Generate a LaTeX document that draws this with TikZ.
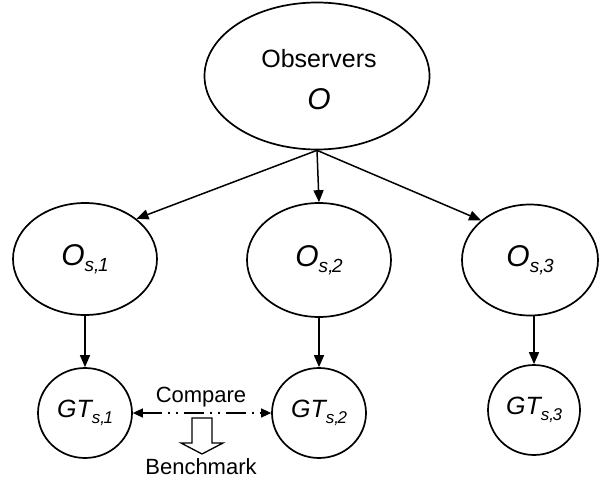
\documentclass[tikz,border=0pt]{standalone}
\usepackage{fontspec}
\setmainfont{Liberation Sans}
\usetikzlibrary{shapes.geometric,arrows.meta}

% italic symbol with a small italic subscript: #1 symbol, #2 subscript,
% #3 symbol size (pt), #4 subscript size (pt)
\newcommand{\symsub}[4]{{\fontsize{#3pt}{#3pt}\selectfont\itshape #1\raisebox{-6pt}{\fontsize{#4pt}{#4pt}\selectfont #2}}}

\tikzset{
  oval/.style={ellipse, draw, line width=1.7pt, inner sep=0pt},
  arr/.style={-{Triangle[length=12pt,width=10pt]}, line width=1.5pt},
  cmp/.style={{Triangle[length=10pt,width=9pt]}-{Triangle[length=10pt,width=9pt]}, line width=1.5pt,
              dash pattern=on 20pt off 6pt on 2pt off 6pt on 2pt off 6pt},
  lbl/.style={font=\fontsize{22pt}{22pt}\selectfont, inner sep=0pt}
}

\begin{document}
\begin{tikzpicture}[x=1pt,y=-1pt]
\useasboundingbox (0,0) rectangle (599,484);

% observer root
\node[oval, minimum width=225pt, minimum height=147pt] (top) at (317,76) {};
\node[anchor=base, inner sep=0pt, font=\fontsize{25pt}{25pt}\selectfont] (obs) at (319,68) {Observers};
\node[anchor=base, inner sep=0pt, font=\fontsize{30pt}{30pt}\selectfont\itshape] (osym) at (319,110) {O};

% observer subsets
\node[oval, minimum width=144pt, minimum height=112pt] (os1) at (85,259) {\symsub{O}{s,\kern-1.5pt1}{30}{19}};
\node[oval, minimum width=144pt, minimum height=114pt] (os2) at (319,260) {\symsub{O}{s,\kern-1.5pt2}{30}{19}};
\node[oval, minimum width=136pt, minimum height=111pt] (os3) at (530,260) {\symsub{O}{s,\kern-1.5pt3}{30}{19}};

% ground truths
\node[oval, minimum width=94pt, minimum height=90pt] (gt1) at (85,413) {\symsub{GT}{s,\kern-1.5pt1}{25}{17}};
\node[oval, minimum width=94pt, minimum height=90pt] (gt2) at (319,413) {\symsub{GT}{s,\kern-1.5pt2}{25}{17}};
\node[oval, minimum width=92pt, minimum height=90pt] (gt3) at (534,410) {\symsub{GT}{s,\kern-1.5pt3}{25}{17}};

% connectors
\draw[arr] (top.south) -- (os1.38);
\draw[arr] (top.south) -- (os2.north);
\draw[arr] (top.south) -- (os3.141);
\draw[arr] (os1.south) -- (gt1.north);
\draw[arr] (os2.south) -- (gt2.north);
\draw[arr] (os3.south -| gt3.north) -- (gt3.north);

% comparison of two ground truths
\draw[cmp] (gt1.east) -- (gt2.west);
\node[lbl] (compare) at (201,397) {Compare};
\node[lbl] (bench) at (201,467) {Benchmark};

% hollow arrow towards the benchmark
\coordinate (h) at (202,418);
\draw[line width=1.3pt, fill=white, line join=miter]
  ([xshift=-10pt]h) -- ([xshift=10pt]h) -- ([xshift=10pt,yshift=-25pt]h)
  -- ([xshift=21pt,yshift=-25pt]h) -- ([yshift=-36pt]h) -- ([xshift=-21pt,yshift=-25pt]h)
  -- ([xshift=-10pt,yshift=-25pt]h) -- cycle;
\end{tikzpicture}
\end{document}
